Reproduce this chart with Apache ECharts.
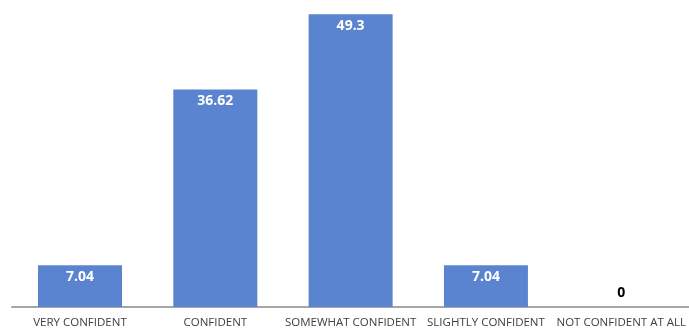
<!DOCTYPE html>
<html><head><meta charset="utf-8">
<script src="https://cdn.jsdelivr.net/npm/echarts@6/dist/echarts.min.js"></script>
<style>html,body{margin:0;padding:0;background:#fff}#c{width:689px;height:330px}</style>
</head><body><div id="c"></div>
<script>
const categories = ['VERY CONFIDENT','CONFIDENT','SOMEWHAT CONFIDENT','SLIGHTLY CONFIDENT','NOT CONFIDENT AT ALL'];
const values = [7.04, 36.62, 49.3, 7.04, 0];

const chart = echarts.init(document.getElementById('c'));
chart.setOption({
  animation: false,
  grid: [
    {left: 80, right: 62, top: 10, bottom: 23},
    {left: 12, right: 0, top: 10, bottom: 23}
  ],
  xAxis: [{
    type: 'category', data: categories, gridIndex: 0, boundaryGap: false,
    axisTick: {show: false},
    axisLine: {show: false},
    axisLabel: {color: '#404040', fontSize: 11.5, fontFamily: 'Open Sans', margin: 10, interval: 0}
  }, {
    type: 'category', data: [''], gridIndex: 1,
    axisTick: {show: false}, axisLabel: {show: false},
    axisLine: {lineStyle: {color: '#a6a6a6', width: 2}}
  }],
  yAxis: [
    {type: 'value', min: 0, max: 50, show: false, splitLine: {show: false}, gridIndex: 0},
    {type: 'value', min: 0, max: 50, show: false, splitLine: {show: false}, gridIndex: 1}
  ],
  series: [{
    type: 'bar', barWidth: 84, z: 3,
    itemStyle: {color: '#5b84d0'},
    data: values.map(v => v === 0 ? {value: v, label: {position: 'top', color: '#000', distance: 7}} : v),
    label: {show: true, position: 'insideTop', distance: 5, color: '#fff', fontWeight: 'bold', fontSize: 14, fontFamily: 'Open Sans'}
  }]
});
</script></body></html>
